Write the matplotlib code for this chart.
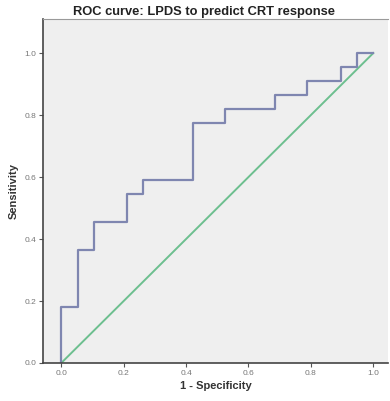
import matplotlib
matplotlib.use("Agg")
import matplotlib.pyplot as plt

# ROC curve vertices (1 - specificity, sensitivity)
fpr = [0.0, 0.0, 0.053, 0.053, 0.105, 0.105, 0.211, 0.211, 0.263, 0.263,
       0.421, 0.421, 0.526, 0.526, 0.684, 0.684, 0.789, 0.789, 0.895, 0.895,
       0.947, 0.947, 1.0]
tpr = [0.0, 0.182, 0.182, 0.364, 0.364, 0.455, 0.455, 0.545, 0.545, 0.591,
       0.591, 0.773, 0.773, 0.818, 0.818, 0.864, 0.864, 0.909, 0.909, 0.955,
       0.955, 1.0, 1.0]
ref_x = [0.0, 1.0]
ref_y = [0.0, 1.0]
ticks = [0.0, 0.2, 0.4, 0.6, 0.8, 1.0]
tick_labels = ["0.0", "0.2", "0.4", "0.6", "0.8", "1.0"]

plt.rcParams['font.family'] = ['Liberation Sans', 'DejaVu Sans']

fig = plt.figure(figsize=(3.9, 4.01), dpi=100)
fig.patch.set_facecolor("white")
ax = fig.add_axes([0.1115, 0.0948, 0.884, 0.8578])
ax.set_facecolor("#efefef")

ax.plot(ref_x, ref_y, color="#6dbf8f", lw=1.4)
ax.plot(fpr, tpr, color="#7f86b0", lw=1.6)

ax.set_xlim(-0.057, 1.048)
ax.set_ylim(0.0, 1.11)
ax.set_xticks(ticks)
ax.set_xticklabels(tick_labels)
ax.set_yticks(ticks)
ax.set_yticklabels(tick_labels)
ax.tick_params(axis="both", labelsize=6, colors="#555555", length=3,
               width=0.8, labelcolor="#777777", pad=2)

for s in ["left", "bottom"]:
    ax.spines[s].set_color("#444444")
    ax.spines[s].set_linewidth(1.2)
ax.spines["top"].set_color("#9a9a9a")
ax.spines["top"].set_linewidth(0.8)
ax.spines["right"].set_visible(False)

ax.set_title("ROC curve: LPDS to predict CRT response", fontsize=9.3,
             fontweight="bold", color="#222222", pad=3, x=0.465)
ax.set_xlabel("1 - Specificity", fontsize=8, fontweight="bold",
              color="#333333", labelpad=3)
ax.set_ylabel("Sensitivity", fontsize=8, fontweight="bold",
              color="#333333", labelpad=4)

fig.savefig("out.png", dpi=100)
